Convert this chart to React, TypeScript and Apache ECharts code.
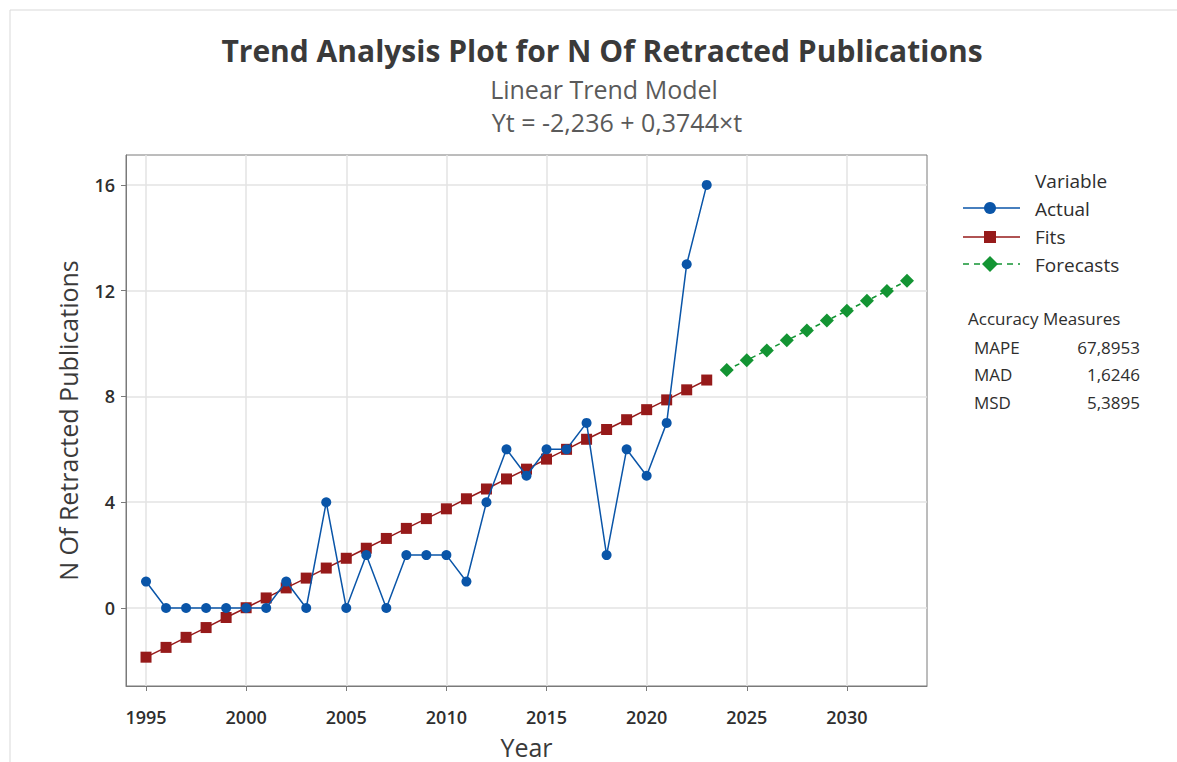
import React, { useEffect, useRef } from "react";
import * as echarts from "echarts";

const years = [1995, 1996, 1997, 1998, 1999, 2000, 2001, 2002, 2003, 2004, 2005, 2006, 2007, 2008, 2009, 2010, 2011, 2012, 2013, 2014, 2015, 2016, 2017, 2018, 2019, 2020, 2021, 2022, 2023];
const actual = [1, 0, 0, 0, 0, 0, 0, 1, 0, 4, 0, 2, 0, 2, 2, 2, 1, 4, 6, 5, 6, 6, 7, 2, 6, 5, 7, 13, 16];
const fits = [-1.86, -1.49, -1.11, -0.74, -0.36, 0.01, 0.38, 0.76, 1.13, 1.51, 1.88, 2.26, 2.63, 3.01, 3.38, 3.75, 4.13, 4.5, 4.88, 5.25, 5.63, 6.0, 6.38, 6.75, 7.12, 7.5, 7.87, 8.25, 8.62];
const forecastYears = [2024, 2025, 2026, 2027, 2028, 2029, 2030, 2031, 2032, 2033];
const forecasts = [9.0, 9.37, 9.74, 10.12, 10.49, 10.87, 11.24, 11.62, 11.99, 12.37];
const xTicks = [1995, 2000, 2005, 2010, 2015, 2020, 2025, 2030];
const yTicks = [0, 4, 8, 12, 16];
const accuracyNames = ["MAPE", "MAD", "MSD"];
const accuracyValues = ["67,8953", "1,6246", "5,3895"];

const FONT = "'Open Sans', 'Noto Sans', sans-serif";
const BLUE = "#0a55a8";
const RED = "#961a1a";
const GREEN = "#139433";
const TXT = "#2e2e2e";

export default function App() {
  const ref = useRef<HTMLDivElement>(null);
  useEffect(() => {
    if (!ref.current) return;
    const chart = echarts.init(ref.current, undefined, { renderer: "svg" });
    const legendX = 963;
    const LF = `19px ${FONT}`;
    const AF = `17px ${FONT}`;
    const graphics: any[] = [
      { type: "rect", shape: { x: 10, y: 10, width: 1200, height: 800 }, style: { fill: "none", stroke: "#d9d9d9", lineWidth: 1 }, silent: true },
      { type: "text", x: 1035, y: 181, style: { text: "Variable", font: LF, fill: TXT, textVerticalAlign: "middle" } },
      { type: "line", shape: { x1: legendX, y1: 208, x2: 1020, y2: 208 }, style: { stroke: BLUE, lineWidth: 1.5 } },
      { type: "circle", shape: { cx: 990, cy: 208, r: 6 }, style: { fill: BLUE } },
      { type: "text", x: 1035, y: 209, style: { text: "Actual", font: LF, fill: TXT, textVerticalAlign: "middle" } },
      { type: "line", shape: { x1: legendX, y1: 237, x2: 1020, y2: 237 }, style: { stroke: RED, lineWidth: 1.5 } },
      { type: "rect", shape: { x: 984, y: 231, width: 12, height: 12 }, style: { fill: RED } },
      { type: "text", x: 1035, y: 237, style: { text: "Fits", font: LF, fill: TXT, textVerticalAlign: "middle" } },
      { type: "line", shape: { x1: legendX, y1: 264, x2: 1020, y2: 264 }, style: { stroke: GREEN, lineWidth: 1.5, lineDash: [6, 5] } },
      { type: "polygon", shape: { points: [[990, 256], [998, 264], [990, 272], [982, 264]] }, style: { fill: GREEN } },
      { type: "text", x: 1035, y: 265, style: { text: "Forecasts", font: LF, fill: TXT, textVerticalAlign: "middle" } },
      { type: "text", x: 968, y: 318, style: { text: "Accuracy Measures", font: AF, fill: TXT, textVerticalAlign: "middle" } },
    ];
    accuracyNames.forEach((n, i) => {
      const y = 347 + i * 27.5;
      graphics.push({ type: "text", x: 974, y, style: { text: n, font: AF, fill: TXT, textVerticalAlign: "middle" } });
      graphics.push({ type: "text", x: 1140, y, style: { text: accuracyValues[i], font: AF, fill: TXT, textAlign: "right", textVerticalAlign: "middle" } });
    });

    chart.setOption({
      animation: false,
      backgroundColor: "#ffffff",
      title: [
        { text: "Trend Analysis Plot for N Of Retracted Publications", left: 597, top: 30, textAlign: "center", textStyle: { fontFamily: FONT, fontSize: 30, fontWeight: "bold", color: "#3a3a3a" } },
        { text: "Linear Trend Model", left: 599, top: 71, textAlign: "center", textStyle: { fontFamily: FONT, fontSize: 25, fontWeight: "normal", color: "#5a5a5a" } },
        { text: "Yt = -2,236 + 0,3744×t", left: 612, top: 104, textAlign: "center", textStyle: { fontFamily: FONT, fontSize: 25, fontWeight: "normal", color: "#5a5a5a" } },
      ],
      grid: { left: 126, right: 250, top: 155, bottom: 76, show: true, borderColor: "#7a7a7a", borderWidth: 1, outerBoundsMode: "none", containLabel: false },
      xAxis: {
        type: "value",
        min: 1994,
        max: 2034,
        name: "Year",
        nameLocation: "middle",
        nameGap: 48,
        nameTextStyle: { fontFamily: FONT, fontSize: 25, color: "#3a3a3a" },
        axisLine: { show: true, onZero: false, lineStyle: { color: "#7a7a7a" } },
        axisTick: { show: true, length: 5, customValues: xTicks, lineStyle: { color: "#7a7a7a" } },
        axisLabel: { customValues: xTicks, fontFamily: FONT, fontSize: 18, fontWeight: 600, color: TXT, margin: 22, formatter: (v: number) => String(v) },
        splitLine: { show: true, lineStyle: { color: "#e3e3e3", width: 1.5 } },
      },
      yAxis: {
        type: "value",
        min: -2.95,
        max: 17.13,
        name: "N Of Retracted Publications",
        nameLocation: "middle",
        nameGap: 46,
        nameTextStyle: { fontFamily: FONT, fontSize: 25, color: "#3a3a3a" },
        axisLine: { show: true, onZero: false, lineStyle: { color: "#7a7a7a" } },
        axisTick: { show: true, length: 5, customValues: yTicks, lineStyle: { color: "#7a7a7a" } },
        axisLabel: { customValues: yTicks, fontFamily: FONT, fontSize: 18, fontWeight: 600, color: TXT, margin: 11 },
        splitLine: { show: true, lineStyle: { color: "#e3e3e3", width: 1.5 } },
      },
      series: [
        {
          name: "Fits",
          type: "line",
          data: years.map((y, i) => [y, fits[i]]),
          symbol: "rect",
          symbolSize: 11,
          itemStyle: { color: RED },
          lineStyle: { color: RED, width: 1.5 },
          z: 2,
        },
        {
          name: "Actual",
          type: "line",
          data: years.map((y, i) => [y, actual[i]]),
          symbol: "circle",
          symbolSize: 10,
          itemStyle: { color: BLUE },
          lineStyle: { color: BLUE, width: 1.5 },
          z: 3,
        },
        {
          name: "Forecasts",
          type: "line",
          data: forecastYears.map((y, i) => [y, forecasts[i]]),
          symbol: "diamond",
          symbolSize: 14,
          itemStyle: { color: GREEN },
          lineStyle: { color: GREEN, width: 1.5, type: [5, 4] },
          z: 2,
        },
      ],
      graphic: graphics,
    });
    return () => chart.dispose();
  }, []);
  return <div ref={ref} style={{ position: "absolute", left: 0, top: 0, width: 1177, height: 762 }} />;
}
